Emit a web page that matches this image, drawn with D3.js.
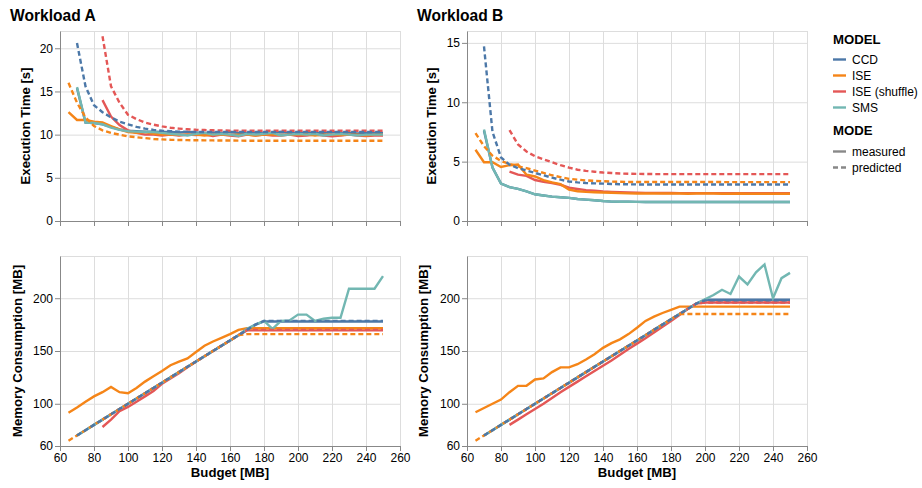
<!DOCTYPE html>
<html>
<head>
<meta charset="utf-8">
<script src="https://cdn.jsdelivr.net/npm/d3@7"></script>
<style>
body { margin: 0; background: #fff; }
svg text { font-family: "Liberation Sans", Arial, Helvetica, sans-serif; fill: #000; }
.grid line { stroke: #ddd; }
.axis path, .axis line { stroke: #888; }
</style>
</head>
<body>
<div id="chart"></div>
<script>
// categories and ticks
const budgets = [65, 70, 75, 80, 85, 90, 95, 100, 105, 110, 115, 120, 125, 130, 135, 140, 145, 150, 155, 160,
	165, 170, 175, 180, 185, 190, 195, 200, 205, 210, 215, 220, 225, 230, 235, 240, 245, 250];
const models = [ 'CCD', 'ISE', 'ISE (shuffle)', 'SMS' ];
const modes = [ 'measured', 'predicted' ];
const modelColors = [ '#4c78a8', '#f58518', '#e45756', '#72b7b2' ];
const xTicks = [ 60, 80, 100, 120, 140, 160, 180, 200, 220, 240, 260 ];
const timeTicksA = [ 0, 5, 10, 15, 20 ];
const timeTicksB = [ 0, 5, 10, 15 ];
const memTicks = [ 60, 100, 150, 200 ];

// Workload A - execution time [s]
const timeA_ccd_meas = [ null, 15.4, 11.4, 11.35, 11.2, 10.9, 10.6, 10.45, 10.4, 10.35,
	10.35, 10.3, 10.3, 10.25, 10.3, 10.25, 10.2, 10.25, 10.2, 10.3,
	10.2, 10.2, 10.25, 10.2, 10.2, 10.3, 10.2, 10.2, 10.25, 10.2,
	10.2, 10.3, 10.2, 10.2, 10.15, 10.2, 10.2, 10.2 ];
const timeA_ccd_pred = [ null, 20.6, 15.6, 13.4, 12.6, 12.0, 11.5, 11.2, 10.9, 10.7,
	10.55, 10.45, 10.4, 10.35, 10.32, 10.3, 10.3, 10.3, 10.3, 10.3,
	10.3, 10.3, 10.3, 10.3, 10.3, 10.3, 10.3, 10.3, 10.3, 10.3,
	10.3, 10.3, 10.3, 10.3, 10.3, 10.3, 10.3, 10.3 ];
const timeA_ise_meas = [ 12.6, 11.7, 11.7, 11.5, 11.4, 11.0, 10.6, 10.3, 10.2, 10.3,
	10.1, 10.0, 10.05, 9.95, 10.0, 10.0, 9.9, 10.0, 10.0, 9.95,
	10.0, 10.0, 9.9, 10.0, 10.0, 9.95, 10.0, 10.0, 10.05, 9.9,
	10.0, 10.0, 9.95, 10.0, 10.0, 9.9, 10.0, 10.0 ];
const timeA_ise_pred = [ 16.0, 13.7, 12.0, 11.0, 10.5, 10.2, 10.0, 9.8, 9.7, 9.6,
	9.5, 9.45, 9.4, 9.38, 9.36, 9.35, 9.34, 9.33, 9.32, 9.32,
	9.31, 9.3, 9.3, 9.3, 9.3, 9.3, 9.3, 9.3, 9.3, 9.3,
	9.3, 9.3, 9.3, 9.3, 9.3, 9.3, 9.3, 9.3 ];
const timeA_shuf_meas = [ null, null, null, null, 14.0, 12.1, 11.1, 10.5, 10.2, 10.0,
	10.0, 9.9, 10.0, 9.9, 10.0, 9.95, 10.0, 9.85, 10.0, 9.9,
	9.8, 10.0, 9.9, 10.0, 9.9, 9.9, 10.0, 9.85, 9.9, 10.0,
	9.9, 9.8, 9.9, 10.0, 9.9, 9.85, 9.9, 9.9 ];
const timeA_shuf_pred = [ null, null, null, null, 21.4, 15.6, 13.7, 12.3, 11.8, 11.4,
	11.15, 10.95, 10.8, 10.7, 10.62, 10.56, 10.53, 10.5, 10.48, 10.47,
	10.46, 10.45, 10.45, 10.45, 10.45, 10.45, 10.45, 10.45, 10.45, 10.45,
	10.45, 10.45, 10.45, 10.45, 10.45, 10.45, 10.45, 10.45 ];
const timeA_sms_meas = [ null, 15.5, 11.4, 11.35, 11.2, 10.8, 10.55, 10.4, 10.35, 10.3,
	10.3, 10.2, 10.1, 10.0, 9.9, 10.1, 10.2, 10.0, 10.1, 10.0,
	9.85, 10.1, 10.0, 10.1, 10.2, 9.9, 10.0, 10.1, 10.0, 10.1,
	9.9, 10.0, 10.1, 10.0, 9.9, 10.0, 10.0, 10.0 ];

// Workload B - execution time [s]
const timeB_ccd_meas = [ null, 7.6, 4.5, 3.15, 2.85, 2.7, 2.5, 2.25, 2.15, 2.05,
	2.0, 1.95, 1.85, 1.8, 1.75, 1.68, 1.63, 1.62, 1.62, 1.61,
	1.6, 1.6, 1.6, 1.6, 1.6, 1.6, 1.6, 1.6, 1.6, 1.6,
	1.6, 1.6, 1.6, 1.6, 1.6, 1.6, 1.6, 1.6 ];
const timeB_ccd_pred = [ null, 14.7, 7.5, 5.35, 4.75, 4.45, 4.25, 4.05, 3.85, 3.65,
	3.48, 3.33, 3.25, 3.2, 3.17, 3.15, 3.12, 3.1, 3.09, 3.08,
	3.08, 3.08, 3.08, 3.08, 3.08, 3.08, 3.08, 3.08, 3.08, 3.08,
	3.08, 3.08, 3.08, 3.08, 3.08, 3.08, 3.08, 3.08 ];
const timeB_ise_meas = [ 6.0, 4.95, 4.95, 4.55, 4.7, 4.75, 3.9, 3.75, 3.45, 3.25,
	3.1, 2.65, 2.5, 2.45, 2.42, 2.4, 2.38, 2.35, 2.33, 2.32,
	2.32, 2.31, 2.32, 2.32, 2.31, 2.3, 2.31, 2.32, 2.31, 2.3,
	2.3, 2.31, 2.3, 2.3, 2.3, 2.3, 2.3, 2.3 ];
const timeB_ise_pred = [ 7.4, 6.3, 5.5, 5.05, 4.8, 4.6, 4.45, 4.25, 4.05, 3.85,
	3.7, 3.55, 3.48, 3.42, 3.38, 3.35, 3.32, 3.3, 3.29, 3.28,
	3.28, 3.28, 3.28, 3.28, 3.28, 3.28, 3.28, 3.28, 3.28, 3.28,
	3.27, 3.27, 3.27, 3.27, 3.27, 3.27, 3.27, 3.27 ];
const timeB_shuf_meas = [ null, null, null, null, 4.15, 3.9, 3.8, 3.45, 3.3, 3.2,
	3.05, 2.8, 2.7, 2.6, 2.55, 2.48, 2.45, 2.42, 2.4, 2.38,
	2.37, 2.37, 2.36, 2.36, 2.35, 2.35, 2.35, 2.35, 2.35, 2.35,
	2.35, 2.35, 2.35, 2.35, 2.35, 2.35, 2.35, 2.35 ];
const timeB_shuf_pred = [ null, null, null, null, 7.65, 6.45, 5.85, 5.45, 5.2, 4.95,
	4.7, 4.5, 4.32, 4.22, 4.15, 4.08, 4.04, 4.0, 3.98, 3.97,
	3.96, 3.95, 3.95, 3.95, 3.95, 3.95, 3.95, 3.95, 3.95, 3.95,
	3.95, 3.95, 3.95, 3.95, 3.95, 3.95, 3.95, 3.95 ];
const timeB_sms_meas = [ null, 7.7, 4.5, 3.15, 2.85, 2.7, 2.5, 2.25, 2.15, 2.05,
	2.0, 1.95, 1.85, 1.8, 1.75, 1.68, 1.63, 1.62, 1.62, 1.61,
	1.6, 1.6, 1.6, 1.6, 1.6, 1.6, 1.6, 1.6, 1.6, 1.6,
	1.6, 1.6, 1.6, 1.6, 1.6, 1.6, 1.6, 1.6 ];

// Workload A - memory consumption [MB]
const memA_ccd_meas = [ null, 70, 75, 80, 85, 90, 95, 100, 105, 110,
	115, 120, 125, 130, 135, 140, 145, 150, 155, 160,
	165, 170, 175, 178, 178, 178, 178, 178, 178, 178,
	178, 178, 178, 178, 178, 178, 178, 178 ];
const memA_ccd_pred = [ null, 70, 75, 80, 85, 90, 95, 100, 105, 110,
	115, 120, 125, 130, 135, 140, 145, 150, 155, 160,
	165, 170, 175, 178.5, 178.5, 178.5, 178.5, 178.5, 178.5, 178.5,
	178.5, 178.5, 178.5, 178.5, 178.5, 178.5, 178.5, 178.5 ];
const memA_ise_meas = [ 91.5, 96.5, 102, 107, 111, 116, 111, 110, 115, 121,
	126, 131, 136.5, 140, 143, 149, 155, 159, 162.5, 166,
	170, 171.5, 171.5, 171.5, 171.5, 171.5, 171.5, 171.5, 171.5, 171.5,
	171.5, 171.5, 171.5, 171.5, 171.5, 171.5, 171.5, 171.5 ];
const memA_ise_pred = [ 65, 70, 75, 80, 85, 90, 95, 100, 105, 110,
	115, 120, 125, 130, 135, 140, 145, 150, 155, 160,
	165, 166, 166, 166, 166, 166, 166, 166, 166, 166,
	166, 166, 166, 166, 166, 166, 166, 166 ];
const memA_shuf_meas = [ null, null, null, null, 78, 85, 93, 97, 102, 107,
	112, 119, 124, 129, 134.5, 140, 145, 150, 155, 160,
	165, 169.5, 169.5, 169.5, 169.5, 169.5, 169.5, 169.5, 169.5, 169.5,
	169.5, 169.5, 169.5, 169.5, 169.5, 169.5, 169.5, 169.5 ];
const memA_shuf_pred = [ null, null, null, null, 85, 90, 95, 100, 105, 110,
	115, 120, 125, 130, 135, 140, 145, 150, 155, 160,
	165, 170, 170, 170, 170, 170, 170, 170, 170, 170,
	170, 170, 170, 170, 170, 170, 170, 170 ];
const memA_sms_meas = [ null, 70, 75, 80, 85, 90, 95, 100, 105, 110,
	115, 120, 125, 130, 135, 140, 145, 150, 155, 160,
	165, 171, 175, 178.5, 171, 178.5, 179, 184.5, 184.5, 178.5,
	180.5, 181.5, 181.5, 209, 209, 209, 209, 221 ];

// Workload B - memory consumption [MB]
const memB_ccd_meas = [ null, 70, 75, 80, 85, 90, 95, 100, 105, 110,
	115, 120, 125, 130, 135, 140, 145, 150, 155, 160,
	165, 170, 175, 180, 185, 190, 195, 198.5, 198.5, 198.5,
	198.5, 198.5, 198.5, 198.5, 198.5, 198.5, 198.5, 198.5 ];
const memB_ccd_pred = [ null, 70, 75, 80, 85, 90, 95, 100, 105, 110,
	115, 120, 125, 130, 135, 140, 145, 150, 155, 160,
	165, 170, 175, 180, 185, 190, 195, 198, 198, 198,
	198, 198, 198, 198, 198, 198, 198, 198 ];
const memB_ise_meas = [ 92, 96, 100, 104, 111, 117, 117, 123, 124, 130,
	134.5, 134.5, 137.5, 142, 147, 153, 157.5, 161, 166, 172,
	178.5, 182.5, 186, 189, 192, 192, 192, 192, 192, 192,
	192, 192, 192, 192, 192, 192, 192, 192 ];
const memB_ise_pred = [ 65, 70, 75, 80, 85, 90, 95, 100, 105, 110,
	115, 120, 125, 130, 135, 140, 145, 150, 155, 160,
	165, 170, 175, 180, 185, 185, 185, 185, 185, 185,
	185, 185, 185, 185, 185, 185, 185, 185 ];
const memB_shuf_meas = [ null, null, null, null, 80, 85, 90, 95, 100, 105.5,
	111, 116, 121, 126, 131, 136, 141, 146.5, 152, 157,
	162, 167.5, 173, 178.5, 184, 190, 195, 196, 196, 196,
	196, 196, 196, 196, 196, 196, 196, 196 ];
const memB_shuf_pred = [ null, null, null, null, 85, 90, 95, 100, 105, 110,
	115, 120, 125, 130, 135, 140, 145, 150, 155, 160,
	165, 170, 175, 180, 185, 190, 195, 196, 196, 196,
	196, 196, 196, 196, 196, 196, 196, 196 ];
const memB_sms_meas = [ null, 70, 75, 80, 85, 90, 95, 100, 105, 110,
	115, 120, 125, 130, 135, 140, 145, 150, 155, 160,
	165, 170, 175, 180, 185, 190, 195, 199, 203, 208,
	204, 220.5, 213, 224.5, 232, 200, 219, 224 ];

// magic globals
const W = 340;
const H = 190;
const lineWidth = 2.4;
const dash = '5,3';
const fontStack = '"Liberation Sans", Arial, Helvetica, sans-serif';

const color = d3.scaleOrdinal().domain(models).range(modelColors);

const svg = d3.select('#chart').append('svg').attr('width', 922).attr('height', 488);

// draw order: measured lines first, predicted (dashed) on top
function seriesList(ccdM, ccdP, iseM, iseP, shufM, shufP, smsM) {
	return [
		{ model: 'CCD', mode: 'measured', values: ccdM },
		{ model: 'ISE (shuffle)', mode: 'measured', values: shufM },
		{ model: 'ISE', mode: 'measured', values: iseM },
		{ model: 'SMS', mode: 'measured', values: smsM },
		{ model: 'ISE (shuffle)', mode: 'predicted', values: shufP },
		{ model: 'ISE', mode: 'predicted', values: iseP },
		{ model: 'CCD', mode: 'predicted', values: ccdP }
	];
}

const panels = [
	{ title: 'Workload A', left: 60, top: 31, yDomain: [ 0, 22 ], yTicks: timeTicksA, yTitle: 'Execution Time [s]',
		titleOff: 30.5, xLabels: false,
		series: seriesList(timeA_ccd_meas, timeA_ccd_pred, timeA_ise_meas, timeA_ise_pred, timeA_shuf_meas, timeA_shuf_pred, timeA_sms_meas) },
	{ title: 'Workload B', left: 467, top: 31, yDomain: [ 0, 16 ], yTicks: timeTicksB, yTitle: 'Execution Time [s]',
		titleOff: 31, xLabels: false,
		series: seriesList(timeB_ccd_meas, timeB_ccd_pred, timeB_ise_meas, timeB_ise_pred, timeB_shuf_meas, timeB_shuf_pred, timeB_sms_meas) },
	{ left: 60, top: 256, yDomain: [ 60, 240 ], yTicks: memTicks, yTitle: 'Memory Consumption [MB]',
		titleOff: 38, xLabels: true,
		series: seriesList(memA_ccd_meas, memA_ccd_pred, memA_ise_meas, memA_ise_pred, memA_shuf_meas, memA_shuf_pred, memA_sms_meas) },
	{ left: 467, top: 256, yDomain: [ 60, 240 ], yTicks: memTicks, yTitle: 'Memory Consumption [MB]',
		titleOff: 39, xLabels: true,
		series: seriesList(memB_ccd_meas, memB_ccd_pred, memB_ise_meas, memB_ise_pred, memB_shuf_meas, memB_shuf_pred, memB_sms_meas) }
];

function drawPanel(p) {
	const g = svg.append('g').attr('transform', 'translate(' + p.left + ',' + p.top + ')');
	const x = d3.scaleLinear().domain([ 60, 260 ]).range([ 0, W ]);
	const y = d3.scaleLinear().domain(p.yDomain).range([ H, 0 ]);

	// grid
	g.append('g').attr('class', 'grid').attr('transform', 'translate(0,' + H + ')')
		.call(d3.axisBottom(x).tickValues(xTicks).tickSize(-H).tickFormat(''))
		.call((a) => a.select('.domain').remove());
	g.append('g').attr('class', 'grid')
		.call(d3.axisLeft(y).tickValues(p.yTicks).tickSize(-W).tickFormat(''))
		.call((a) => a.select('.domain').remove());
	g.append('rect').attr('x', 0.5).attr('y', 0.5).attr('width', W).attr('height', H)
		.attr('fill', 'none').attr('stroke', '#ddd');

	// axes
	const xAxis = d3.axisBottom(x).tickValues(xTicks).tickSize(5).tickSizeOuter(0).tickPadding(2);
	if (!p.xLabels) xAxis.tickFormat('');
	const xa = g.append('g').attr('class', 'axis').attr('transform', 'translate(0,' + H + ')').call(xAxis);
	const ya = g.append('g').attr('class', 'axis')
		.call(d3.axisLeft(y).tickValues(p.yTicks).tickSize(5).tickSizeOuter(0).tickPadding(2));
	[ xa, ya ].forEach((a) => a.selectAll('text').attr('font-size', 12).attr('font-family', fontStack).attr('fill', '#000'));

	// lines
	const line = d3.line()
		.defined((d) => d[1] != null)
		.x((d) => x(d[0]))
		.y((d) => y(d[1]));
	g.selectAll('.series')
		.data(p.series)
		.enter()
		.append('path')
		.attr('class', 'series')
		.attr('fill', 'none')
		.attr('stroke', (d) => color(d.model))
		.attr('stroke-width', lineWidth)
		.attr('stroke-dasharray', (d) => (d.mode === 'predicted' ? dash : null))
		.attr('d', (d) => line(budgets.map((b, i) => [ b, d.values[i] ])));

	// y title
	svg.append('text')
		.attr('transform', 'translate(' + (p.left - p.titleOff) + ',' + (p.top + H / 2) + ') rotate(-90)')
		.attr('text-anchor', 'middle')
		.attr('font-size', 13.2)
		.attr('font-weight', 'bold')
		.text(p.yTitle);

	if (p.xLabels) {
		svg.append('text')
			.attr('x', p.left + W / 2)
			.attr('y', p.top + H + 31)
			.attr('text-anchor', 'middle')
			.attr('font-size', 13.2)
			.attr('font-weight', 'bold')
			.text('Budget [MB]');
	}
	if (p.title) {
		svg.append('text')
			.attr('x', p.left - 50)
			.attr('y', 21.3)
			.attr('font-size', 15.6)
			.attr('font-weight', 'bold')
			.text(p.title);
	}
}

panels.forEach(drawPanel);

// legend
const lg = svg.append('g').attr('transform', 'translate(833,0)');
lg.append('text').attr('x', 0).attr('y', 43.5).attr('font-size', 13.2).attr('font-weight', 'bold').text('MODEL');
const modelRows = lg.selectAll('.model-row').data(models).enter().append('g')
	.attr('transform', (d, i) => 'translate(0,' + (59.5 + i * 16) + ')');
modelRows.append('line').attr('x1', 0).attr('x2', 13).attr('stroke', (d) => color(d)).attr('stroke-width', 2.4);
modelRows.append('text').attr('x', 19).attr('dy', '0.35em').attr('font-size', 12).text((d) => d);

lg.append('text').attr('x', 0).attr('y', 134.5).attr('font-size', 13.2).attr('font-weight', 'bold').text('MODE');
const modeRows = lg.selectAll('.mode-row').data(modes).enter().append('g')
	.attr('transform', (d, i) => 'translate(0,' + (151.5 + i * 16) + ')');
modeRows.append('line').attr('x1', 0).attr('x2', 13).attr('stroke', '#888').attr('stroke-width', 2.4)
	.attr('stroke-dasharray', (d) => (d === 'predicted' ? dash : null));
modeRows.append('text').attr('x', 19).attr('dy', '0.35em').attr('font-size', 12).text((d) => d);
</script>
</body>
</html>
